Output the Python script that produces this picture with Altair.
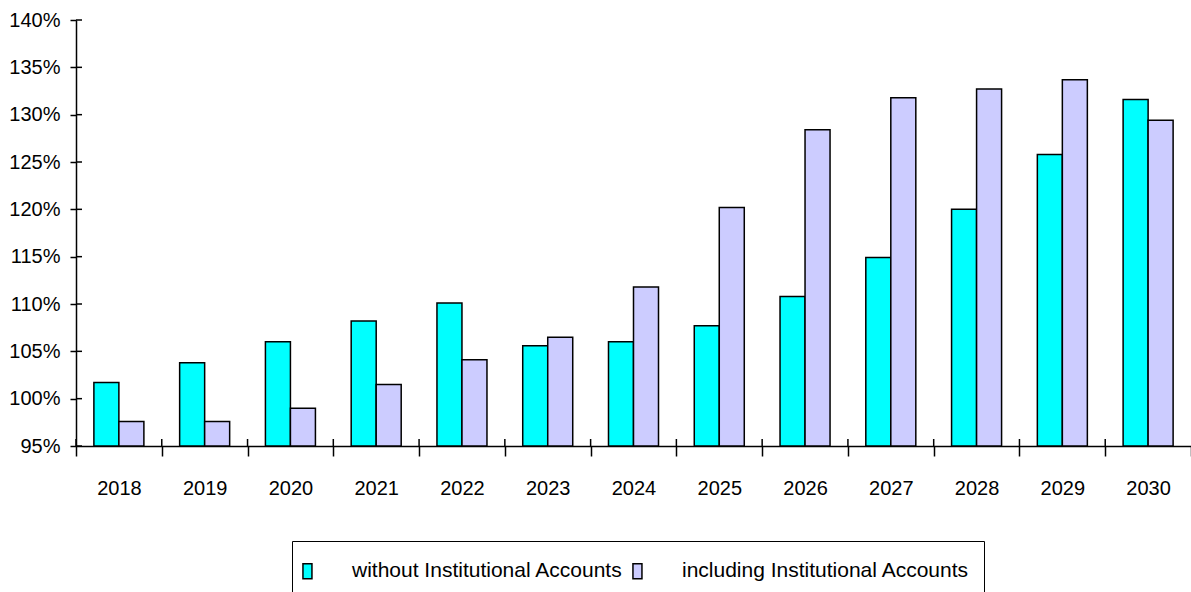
import altair as alt
import pandas as pd

# Ratio per year, two series
years = ["2018", "2019", "2020", "2021", "2022", "2023", "2024",
         "2025", "2026", "2027", "2028", "2029", "2030"]
without_inst = [1.017, 1.038, 1.060, 1.082, 1.101, 1.056, 1.060,
                1.077, 1.108, 1.149, 1.200, 1.258, 1.316]
including_inst = [0.976, 0.976, 0.990, 1.015, 1.041, 1.065, 1.118,
                  1.202, 1.284, 1.318, 1.327, 1.337, 1.294]
series_names = ["without Institutional Accounts", "including Institutional Accounts"]
series_colors = ["#00FFFF", "#CCCCFF"]
y_ticks = [0.95, 1.00, 1.05, 1.10, 1.15, 1.20, 1.25, 1.30, 1.35, 1.40]

rows = []
for i, yr in enumerate(years):
    rows.append({"year": yr, "series": series_names[0], "value": without_inst[i]})
    rows.append({"year": yr, "series": series_names[1], "value": including_inst[i]})
df = pd.DataFrame(rows)

FONT = "Liberation Sans"
FS = 20
W, H = 1115, 426

x_scale = alt.Scale(domain=years, paddingInner=0, paddingOuter=0)
y_scale = alt.Scale(domain=[0.95, 1.40], zero=False, nice=False)

x_axis = alt.Axis(labelAngle=0, tickBand="extent", tickSize=10,
                  labelPadding=22, labelFontSize=FS, labelFont=FONT,
                  labelColor="black", domainColor="black", tickColor="black",
                  domainWidth=1.5, tickWidth=1.5, grid=False)
y_axis = alt.Axis(values=y_ticks, format=".0%", grid=False, tickSize=6,
                  labelPadding=10, labelFontSize=FS, labelFont=FONT,
                  labelColor="black", domainColor="black", tickColor="black",
                  domainWidth=1.5, tickWidth=1.5)

# small upright swatch drawn at the left of a wide symbol slot
swatch = "M-1.27,-0.5L-0.67,-0.5L-0.67,0.5L-1.27,0.5Z"

bars = alt.Chart(df).mark_bar(stroke="black", strokeWidth=1.5, clip=True).encode(
    x=alt.X("year:N", sort=years, title=None, scale=x_scale, axis=x_axis),
    xOffset=alt.XOffset("series:N", sort=series_names,
                        scale=alt.Scale(paddingInner=0, paddingOuter=0.715)),
    y=alt.Y("value:Q", scale=y_scale, title=None, axis=y_axis),
    y2=alt.datum(0.95),
    color=alt.Color("series:N", sort=series_names,
                    scale=alt.Scale(domain=series_names, range=series_colors),
                    legend=alt.Legend(title=None, orient="none", legendX=216, legendY=521,
                                      direction="horizontal", strokeColor="black",
                                      padding=14, labelFont=FONT, labelFontSize=21,
                                      labelColor="black", labelOffset=14,
                                      labelLimit=1000, columnPadding=6,
                                      symbolType=swatch,
                                      symbolSize=900, symbolStrokeColor="black",
                                      symbolStrokeWidth=1.5)),
)

# inner half of the y-axis tick marks
tick_df = pd.DataFrame({"t": y_ticks})
inner_y_ticks = alt.Chart(tick_df).mark_rule(color="black", strokeWidth=1.5).encode(
    y=alt.Y("t:Q", scale=y_scale, title=None, axis=y_axis),
    x=alt.value(0),
    x2=alt.value(6),
)

# upper part of the category boundary ticks
cat_df = pd.DataFrame({"year": years})
inner_x_ticks = alt.Chart(cat_df).mark_rule(color="black", strokeWidth=1.5).encode(
    x=alt.X("year:N", sort=years, scale=x_scale, bandPosition=0, title=None, axis=x_axis),
    y=alt.value(H - 7),
    y2=alt.value(H),
)

chart = alt.layer(bars, inner_y_ticks, inner_x_ticks).properties(
    width=W, height=H,
    autosize=alt.AutoSizeParams(type="none"),
    padding={"left": 76, "top": 20, "right": 0, "bottom": 146},
    view=alt.ViewBackground(stroke="transparent"),
).configure_view(stroke="transparent", strokeWidth=0).configure(background="white")

chart.save("out.html", embed_options={"renderer": "svg", "actions": False})
